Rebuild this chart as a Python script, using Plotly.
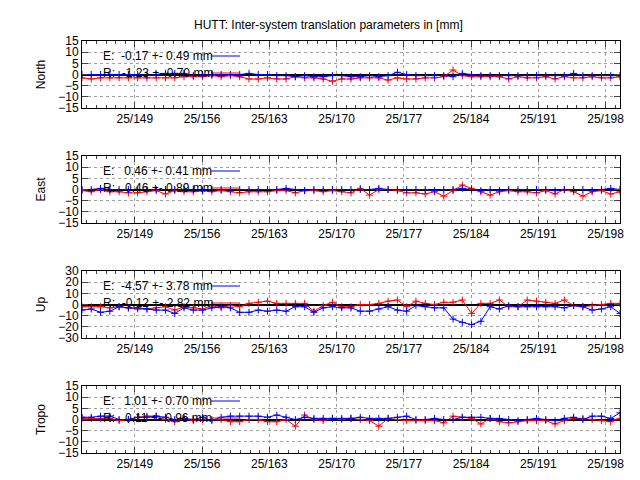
import plotly.graph_objects as go

W, H = 640, 480

# sample epochs (day of year), evenly spread over the plotted span
n_pts = 59
days = [143.5 + i * 56.0 / (n_pts - 1) for i in range(n_pts)]
tick_days = [149, 156, 163, 170, 177, 184, 191, 198]
tick_labels = ["25/149", "25/156", "25/163", "25/170", "25/177", "25/184", "25/191", "25/198"]

north_e = [0, 0, 0, 0, 0, 0, 0, -0.5, 0,
           0.5, 0.5, 0.5,
           -0.5, 0, 0, 0, 0, 0, 0.5, 0, 0, -0.5, -0.5, -1, -0.5, -1, -1, -0.5, -0.5, -1, -1, -0.5, -1, -0.5,
           1,
           0, -0.5, -0.5, -0.5, -0.5, -1,
           0.5,
           0, -0.5, -0.5, -0.5, -0.5, -0.5, -0.5, -0.5, -0.5, -0.5, -0.5,
           0.5,
           -0.5, -0.5, -0.5, -0.5, -0.5]
north_r = [-1.5, -2, -1.5, -1.5, -1.5, -1.5, -1.5, -1.5, -1.5, -1.5, -1.5, -1, -1, -1,
           -0.5, -1, -0.5, -1,
           -2, -2, -1.5, -2, -2,
           -1, -1.5, -1.5, -2,
           -3,
           -2, -2, -1.5, -1.5, -1.5,
           -2.5,
           -1.5, -2, -2, -1.5, -1.5, -1,
           2,
           -0.5, -1, -1, -1, -1, -2, -1, -1.5, -1.5, -1, -2, -1, -1.5, -1.5, -1, -1.5, -1.5, -1]
east_e = [0, 0, 0.5, 0, 0, 0, 0, 0, 0, 0, 0, 0, 0, -0.5, 0, 0, 0, 0, 0, 0, 0, 0, 0.5, 0, -0.5, 0, 0, 0, 0, 0, 0, 0, 0.5, 0, 0, 0, 0, 0, -0.5, 0, 0, 0.5, 0, -0.5, 0, -0.5, 0, 0, 0, 0, 0, -0.5, 0, 0, 0, -0.5, 0, 0.5, 0]
east_r = [-0.5, -1, 0, -1, -1, -1.5, -1.5, -1, -0.5,
          -2,
          -0.5, -1, -1, -0.5, -1, -0.5, -1, -1.5, -1, -1, -1, -0.5, -0.5, -1.5, -0.5, -0.5, -1, -0.5, -1, -1.5, 0.5,
          -2.5,
          0, 0, -0.5, -1.5, -1.5, -2, -1,
          -3, -0.5, 2, 0.5, -1, -2.5,
          -1, -0.5, -1, -1, -1.5, -0.5,
          -2, 0, -1, -3, -1, -0.5, -2, -1]
up_e = [-5, -4, -7, -6, -2, -3, -3, -4, -5, -5, -8, -3, -5, -5, -3, -2, -3, -7, -7, -5, -6, -5, -6, -2, -2, -7, -3, -2, -3, -3, -6, -6, -4, -2, -5, -6, -1, -2, -3, -3, -13, -16, -18, -15, -2, -4, -1, -2, -2, -2, -2, -2, -3, -1, -2, -5, -4, -2, -8]
up_r = [-2, -2, -2, -3, -2, -3, -4, -4, -3, -2, -5, -2, -3, -4, -1, -3, -1, -2, 1, 2, 3, 1, 1, 1, 1, -6, -1, 2, -2, -2, 0, 0, 1, 3, 4, -2, 3, 1, 0, 2, 2, 4, -8, 1, 1, 4, -2, -2, 4, 3, 2, 1, 4, -1, -2, -1, 0, 1, 1]
tropo_e = [1, 1, 1.5, 1.5, 0, 0, 1, 1, 1.5, 1, 0, 0.5, 0, 1, -0.5, 1, 1.5, 1.5, 1.5, 1.5, 1, 2, 1, 0, 1, 0.5, 0.5, 0.5, 0.5, 0.5, 1, 0.5, 0.5, 0.5, 1, 1.5, 0, 0, 0.5, 0, 0, 1, 1, 1, 0.5, 0.5, 0, -0.5, 0, 0.5, 0, -0.5, 0.5, 1, 0, 1.5, 1.5, 0.5, 3]
tropo_r = [0.5, 0.5, 0.5, 0.5, -0.5, 0, 1, 1.5, 1.5, 0, -1, 0.5, -0.5, 0, 0, 0, -1, -1, 0, 0, -1, -1, 0,
           -3, 2,
           0, -0.5, 0.5, 0, 0.5, 0, -0.5,
           -3,
           0.5, 0, -0.5, -0.5, -0.5, -0.5, -1.5,
           1.5, 1, 0.5, -2, 0.5,
           -1, -1.5, -1, -0.5, -0.5, -0.5,
           -2,
           -0.5, 0.5, 0.5, 0, -0.5, -1, 0.5]

panels = [
    ("North", north_e, north_r, 15, 5, "E:  -0.17 +- 0.49 mm", "R:  -1.23 +- 0.70 mm"),
    ("East", east_e, east_r, 15, 5, "E:   0.46 +- 0.41 mm", "R:   0.46 +- 0.89 mm"),
    ("Up", up_e, up_r, 30, 10, "E:  -4.57 +- 3.78 mm", "R:  -0.12 +- 2.82 mm"),
    ("Tropo", tropo_e, tropo_r, 15, 5, "E:   1.01 +- 0.70 mm", "R:   0.11 +- 0.96 mm"),
]
tops = [33, 148, 263, 378]
ph = 67
x0, x1 = 74, 612
xmin, xmax = 143.5, 199.5

fig = go.Figure()
font = dict(family="Liberation Sans, Arial", size=12, color="black")
shapes, annos = [], []

for i, (name, e, r, lim, step, te, tr) in enumerate(panels):
    n = i + 1
    sfx = "" if n == 1 else str(n)
    top = tops[i]
    dom = [1 - (top + ph) / H, 1 - top / H]
    fig.add_trace(go.Scatter(x=days, y=r, mode="lines+markers", xaxis="x" + sfx, yaxis="y" + sfx,
                             line=dict(color="red", width=1), marker=dict(symbol="cross-thin", size=5, line=dict(color="red", width=1)),
                             showlegend=False))
    fig.add_trace(go.Scatter(x=days, y=e, mode="lines+markers", xaxis="x" + sfx, yaxis="y" + sfx,
                             line=dict(color="blue", width=1), marker=dict(symbol="cross-thin", size=5, line=dict(color="blue", width=1)),
                             showlegend=False))
    ticks = list(range(-lim, lim + 1, step))
    fig.layout["xaxis" + sfx] = dict(domain=[x0 / W, x1 / W], range=[xmin, xmax], anchor="y" + sfx,
                                     automargin=False,
                                     tickvals=tick_days, ticktext=tick_labels, ticks="inside", ticklen=6,
                                     mirror="allticks", showline=True, linecolor="black", linewidth=1,
                                     showgrid=True, gridcolor="#a0a0a0", griddash="dot", gridwidth=1,
                                     zeroline=False, tickfont=font,
                                     minor=dict(dtick=1, tick0=0, ticks="inside", ticklen=3, showgrid=False))
    fig.layout["yaxis" + sfx] = dict(domain=dom, range=[-lim, lim], anchor="x" + sfx, automargin=False,
                                     tickvals=ticks, ticks="inside", ticklen=6, mirror="allticks",
                                     showline=True, linecolor="black", linewidth=1,
                                     showgrid=True, gridcolor="#a0a0a0", griddash="dot",
                                     zeroline=True, zerolinecolor="black", zerolinewidth=1.5,
                                     tickfont=font, title=dict(text=name, font=font, standoff=10))
    # white legend box masking the grid
    shapes.append(dict(type="rect", xref="x" + sfx, yref="paper", x0=xmin, x1=188.4,
                       y0=1 - (top + 31) / H, y1=dom[1], fillcolor="white", line=dict(width=0), layer="below"))
    for j, (txt, col) in enumerate([(te, "blue"), (tr, "red")]):
        yy = 1 - (top + 15 + 17 * j) / H
        annos.append(dict(xref="paper", yref="paper", x=93 / W, y=yy, text=txt, showarrow=False,
                          xanchor="left", yanchor="middle", font=font))
        shapes.append(dict(type="line", xref="paper", yref="paper", x0=203 / W, x1=232 / W, y0=yy, y1=yy,
                           line=dict(color=col, width=1)))

annos.append(dict(xref="paper", yref="paper", x=0.5, y=1 - 17 / H, text="HUTT: Inter-system translation parameters in [mm]",
                  showarrow=False, font=font, yanchor="middle"))

fig.update_layout(width=W, height=H, margin=dict(l=0, r=0, t=0, b=0), plot_bgcolor="white",
                  paper_bgcolor="white", shapes=shapes, annotations=annos, font=font)
fig.write_html("out.html")
